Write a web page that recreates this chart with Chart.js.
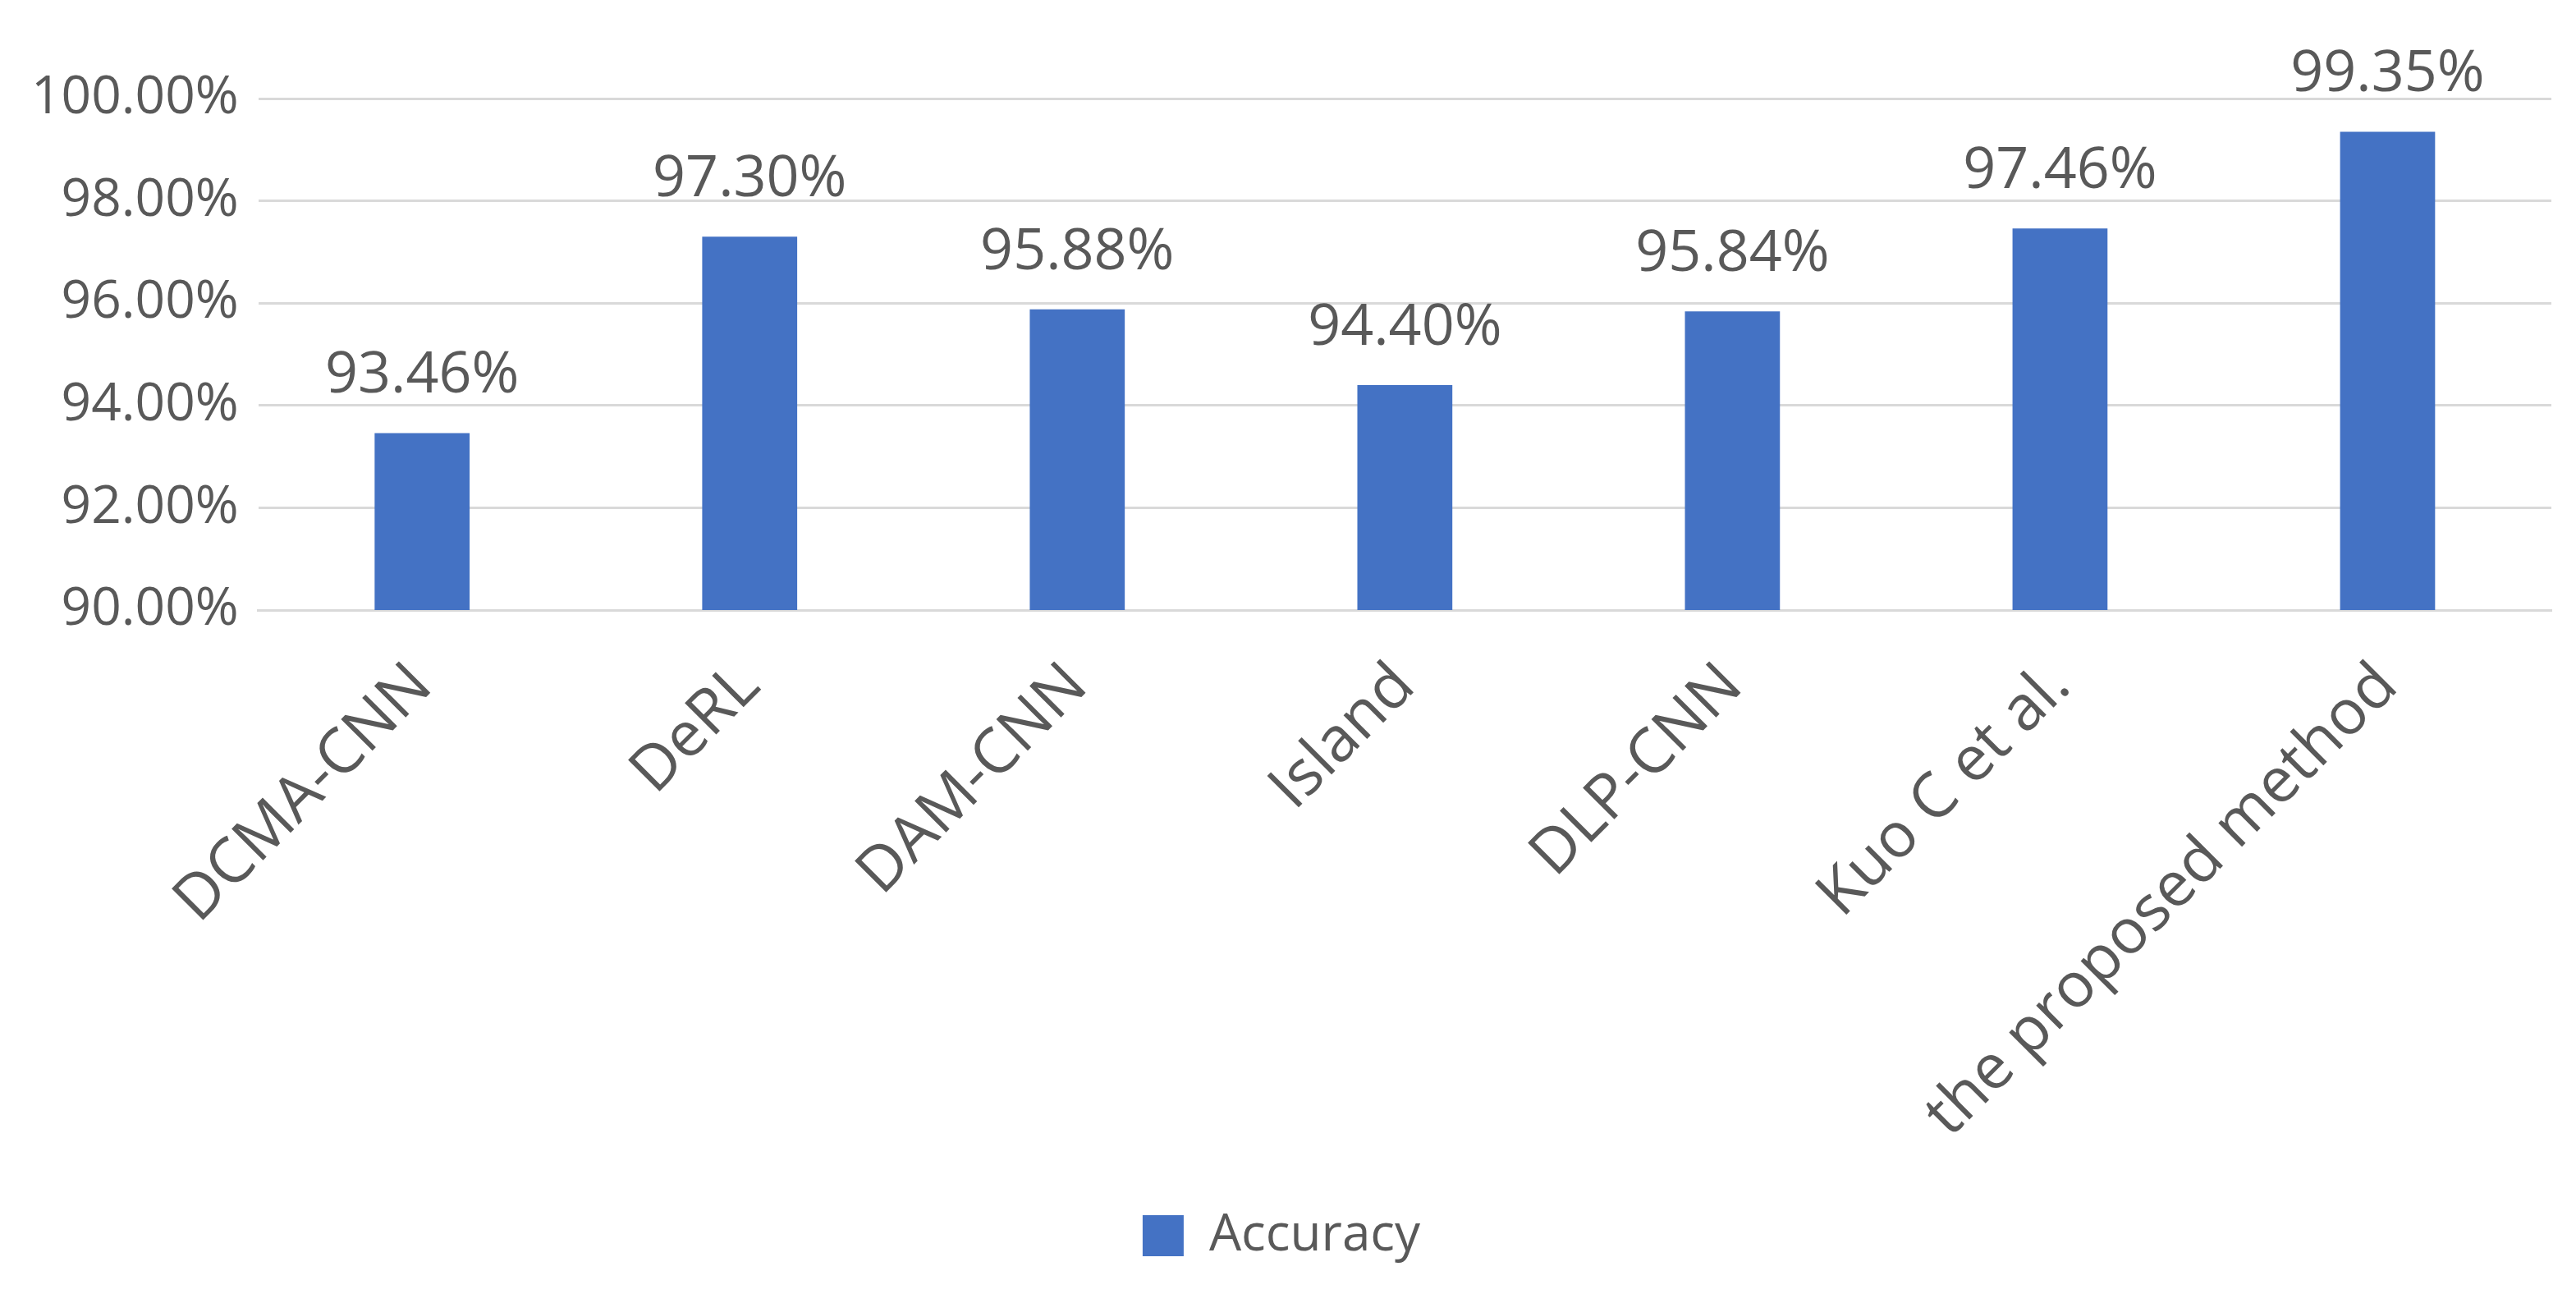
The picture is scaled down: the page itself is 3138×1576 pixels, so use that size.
<!DOCTYPE html>
<html>
<head>
<meta charset="utf-8">
<script src="https://cdn.jsdelivr.net/npm/chart.js@4"></script>
<style>
  body { margin: 0; background: #fff; }
  #wrap { width: 3138px; height: 1576px; }
</style>
</head>
<body>
<div id="wrap"><canvas id="chart"></canvas></div>
<script>
const categories = ['DCMA-CNN', 'DeRL', 'DAM-CNN', 'Island', 'DLP-CNN', 'Kuo C et al.', 'the proposed method'];
const accuracy = [93.46, 97.30, 95.88, 94.40, 95.84, 97.46, 99.35];
const seriesName = 'Accuracy';

const textColor = '#595959';
const fontFamily = '"Open Sans", "Liberation Sans", sans-serif';

// draw value labels above each bar
const valueLabels = {
    id: 'valueLabels',
    afterDatasetsDraw(chart) {
        const ctx = chart.ctx;
        const meta = chart.getDatasetMeta(0);
        ctx.save();
        ctx.fillStyle = textColor;
        ctx.font = '70px ' + fontFamily;
        ctx.textAlign = 'center';
        ctx.textBaseline = 'bottom';
        meta.data.forEach((bar, i) => {
            ctx.fillText(accuracy[i].toFixed(2) + '%', bar.x, bar.y - 34);
        });
        ctx.restore();
    }
};

new Chart(document.getElementById('chart'), {
    type: 'bar',
    data: {
        labels: categories,
        datasets: [{
            label: seriesName,
            data: accuracy,
            backgroundColor: '#4472c4',
            barPercentage: 0.58,
            categoryPercentage: 0.5
        }]
    },
    options: {
        responsive: true,
        maintainAspectRatio: false,
        animation: false,
        layout: { padding: { top: 120, right: 30, left: 14, bottom: 30 } },
        plugins: {
            legend: {
                position: 'bottom',
                labels: {
                    color: textColor,
                    font: { size: 62, family: fontFamily },
                    boxWidth: 50,
                    boxHeight: 50,
                    padding: 30
                }
            },
            tooltip: { enabled: false }
        },
        scales: {
            x: {
                grid: { display: false },
                border: { color: '#d9d9d9', width: 3 },
                ticks: {
                    color: textColor,
                    font: { size: 76, family: fontFamily },
                    minRotation: 45,
                    maxRotation: 45,
                    padding: 40
                }
            },
            y: {
                min: 90,
                max: 100,
                border: { display: false },
                grid: { color: '#d9d9d9', lineWidth: 3, drawTicks: false },
                ticks: {
                    stepSize: 1,
                    color: textColor,
                    font: { size: 64, family: fontFamily },
                    padding: 24,
                    callback: v => v.toFixed(2) + '%'
                }
            }
        }
    },
    plugins: [valueLabels]
});
</script>
</body>
</html>
